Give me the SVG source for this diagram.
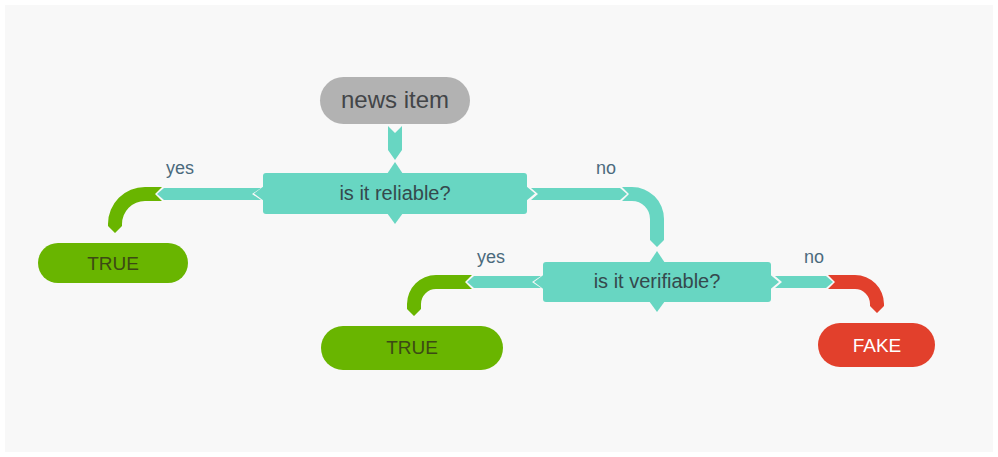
<svg xmlns="http://www.w3.org/2000/svg" width="998" height="457" viewBox="0 0 998 457">
<style>
  .teal { fill: #68d6c2; }
  .green { fill: #69b500; }
  .red { fill: #e2402c; }
  .lbl { font-family: "Liberation Sans", Arial, sans-serif; font-size: 18px; fill: #4b6a7d; text-anchor: middle; }
  .dtxt { font-family: "Liberation Sans", Arial, sans-serif; font-size: 20px; fill: #35494d; text-anchor: middle; }
  .ttxt { font-family: "Liberation Sans", Arial, sans-serif; font-size: 19px; fill: #3c4a14; text-anchor: middle; }
</style>
<rect x="0" y="0" width="998" height="457" fill="#ffffff"/>
<rect x="5" y="5" width="988" height="447" fill="#f8f8f8"/>

<g id="connectors">
  <polygon class="teal" points="388,126 395,133 402,126 402,150 395,160 388,150"/>
  <polygon class="teal" points="157,194 164,188 261,188 252,194 261,200 164,200"/>
  <path class="green" d="M 162 187 L 145 187 A 37 37 0 0 0 108 224 L 108 226 L 115 233 L 122 226 L 122 224 A 23 23 0 0 1 145 201 L 162 201 L 155 194 Z"/>
  <polygon class="teal" points="531,188 620,188 627,194 620,200 531,200 538,194"/>
  <path class="teal" d="M 622 187 L 632 187 A 32 32 0 0 1 664 219 L 664 240 L 657 247 L 650 240 L 650 219 A 18 18 0 0 0 632 201 L 622 201 L 629 194 Z"/>
  <polygon class="teal" points="467,282 474,276 541,276 532,282 541,288 474,288"/>
  <path class="green" d="M 472 275 L 436 275 A 29 29 0 0 0 407 304 L 407 309 L 414 316 L 421 309 L 421 304 A 15 15 0 0 1 436 289 L 472 289 L 465 282 Z"/>
  <polygon class="teal" points="775,276 826,276 833,282 826,288 775,288 782,282"/>
  <path class="red" d="M 828 275 L 855 275 A 29 29 0 0 1 884 304 L 884 306 L 877 313 L 870 306 L 870 304 A 15 15 0 0 0 855 289 L 828 289 L 835 282 Z"/>
  <text class="lbl" x="180" y="174">yes</text>
  <text class="lbl" x="606" y="174">no</text>
  <text class="lbl" x="491" y="263">yes</text>
  <text class="lbl" x="814" y="263">no</text>
</g>

<g id="news-item">
  <rect x="320" y="77" width="150" height="47" rx="23.5" fill="#b2b2b2"/>
  <text x="395" y="108" font-family="Liberation Sans, Arial, sans-serif" font-size="24" fill="#424548" text-anchor="middle">news item</text>
</g>

<g id="reliable">
  <rect class="teal" x="263" y="173" width="264" height="41" rx="3"/>
  <polygon class="teal" points="387,174 395,162 403,174"/>
  <polygon class="teal" points="387,213 395,224 403,213"/>
  <polygon class="teal" points="264,186 254,193.5 264,201"/>
  <polygon class="teal" points="526,186 535,193.5 526,201"/>
  <text class="dtxt" x="395" y="200">is it reliable?</text>
</g>

<g id="verifiable">
  <rect class="teal" x="543" y="262" width="228" height="40" rx="3"/>
  <polygon class="teal" points="649,263 657,251 665,263"/>
  <polygon class="teal" points="649,301 657,312 665,301"/>
  <polygon class="teal" points="544,274.5 534,282 544,289.5"/>
  <polygon class="teal" points="770,274.5 779,282 770,289.5"/>
  <text class="dtxt" x="657" y="288">is it verifiable?</text>
</g>

<g id="true1">
  <rect class="green" x="38" y="243" width="150" height="40" rx="20"/>
  <text class="ttxt" x="113" y="270">TRUE</text>
</g>

<g id="true2">
  <rect class="green" x="321" y="326" width="182" height="44" rx="22"/>
  <text class="ttxt" x="412" y="354">TRUE</text>
</g>

<g id="fake">
  <rect class="red" x="818" y="323" width="117" height="44" rx="22"/>
  <text x="877" y="352" font-family="Liberation Sans, Arial, sans-serif" font-size="19" fill="#ffffff" text-anchor="middle">FAKE</text>
</g>
</svg>
